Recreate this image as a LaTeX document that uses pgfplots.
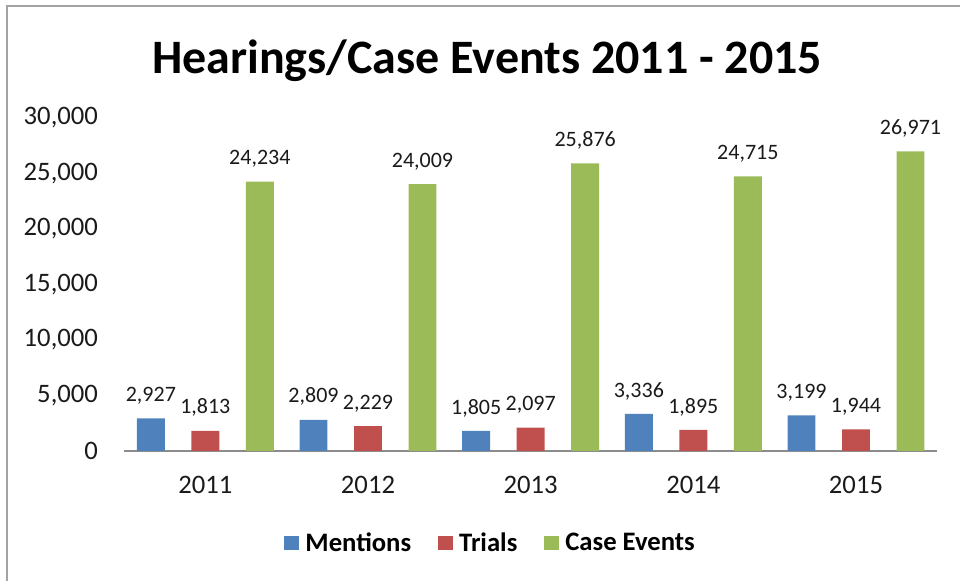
\documentclass[border=0pt]{standalone}
\usepackage{pgfplots}
\pgfplotsset{compat=1.18}
\usepackage{fontspec}
\setmainfont{Carlito}
\definecolor{cBlue}{HTML}{4F81BD}
\definecolor{cRed}{HTML}{C0504D}
\definecolor{cGreen}{HTML}{9BBB59}
\definecolor{cText}{HTML}{1A1A1A}
\definecolor{cAxis}{HTML}{8C8C8C}
\begin{document}
\begin{tikzpicture}
\useasboundingbox (0,0) rectangle (720pt,435.75pt);
\draw[color=cAxis!80, line width=1.5pt] (5.25pt,0) -- (5.25pt,431.25pt) -- (720pt,431.25pt);
\begin{axis}[
  at={(93pt,97.5pt)}, anchor=south west,
  scale only axis, width=610pt, height=250pt,
  xmin=-0.5, xmax=4.5, ymin=0, ymax=30000,
  xtick={0,1,2,3,4}, xticklabels={2011,2012,2013,2014,2015},
  ytick={0,5000,10000,15000,20000,25000,30000},
  axis x line*=bottom, axis y line*=left,
  x axis line style={draw=cAxis, line width=1pt, -},
  y axis line style={draw=none},
  major tick length=0pt,
  /pgf/number format/.cd, 1000 sep={,}, assume math mode=true,
  /pgfplots/.cd,
  ticklabel style={font=\fontsize{20}{23}\selectfont, text=cText},
  yticklabel style={xshift=-16pt},
  xticklabel style={yshift=-15pt},
  scaled y ticks=false,
  ybar, bar width=0.172,
  nodes near coords,
  every node near coord/.append style={font=\fontsize{16.5}{19}\selectfont, text=cText, yshift=7pt, /pgf/number format/1000 sep={,}, /pgf/number format/assume math mode=true},
  title={Hearings/Case Events 2011 - 2015},
  title style={at={(axis description cs:0.4465,1)}, anchor=center, yshift=36.5pt, font=\bfseries\fontsize{36}{41}\selectfont},
  legend style={at={(axis description cs:0.451,-0.276)}, anchor=center, draw=none, font=\bfseries\fontsize{20}{23}\selectfont, legend columns=-1,
    /tikz/every odd column/.append style={column sep=3pt},
    /tikz/every even column/.append style={column sep=18pt}},
  legend image code/.code={\fill[#1] (0pt,-5.5pt) rectangle (11pt,5.5pt);},
]
\addplot[fill=cBlue, draw=none, bar shift=-0.335] coordinates {(0,2927) (1,2809) (2,1805) (3,3336) (4,3199)};
\addplot[fill=cRed, draw=none, bar shift=0] coordinates {(0,1813) (1,2229) (2,2097) (3,1895) (4,1944)};
\addplot[fill=cGreen, draw=none, bar shift=0.335] coordinates {(0,24234) (1,24009) (2,25876) (3,24715) (4,26971)};
\legend{Mentions, Trials, Case Events}
\end{axis}
\end{tikzpicture}
\end{document}
